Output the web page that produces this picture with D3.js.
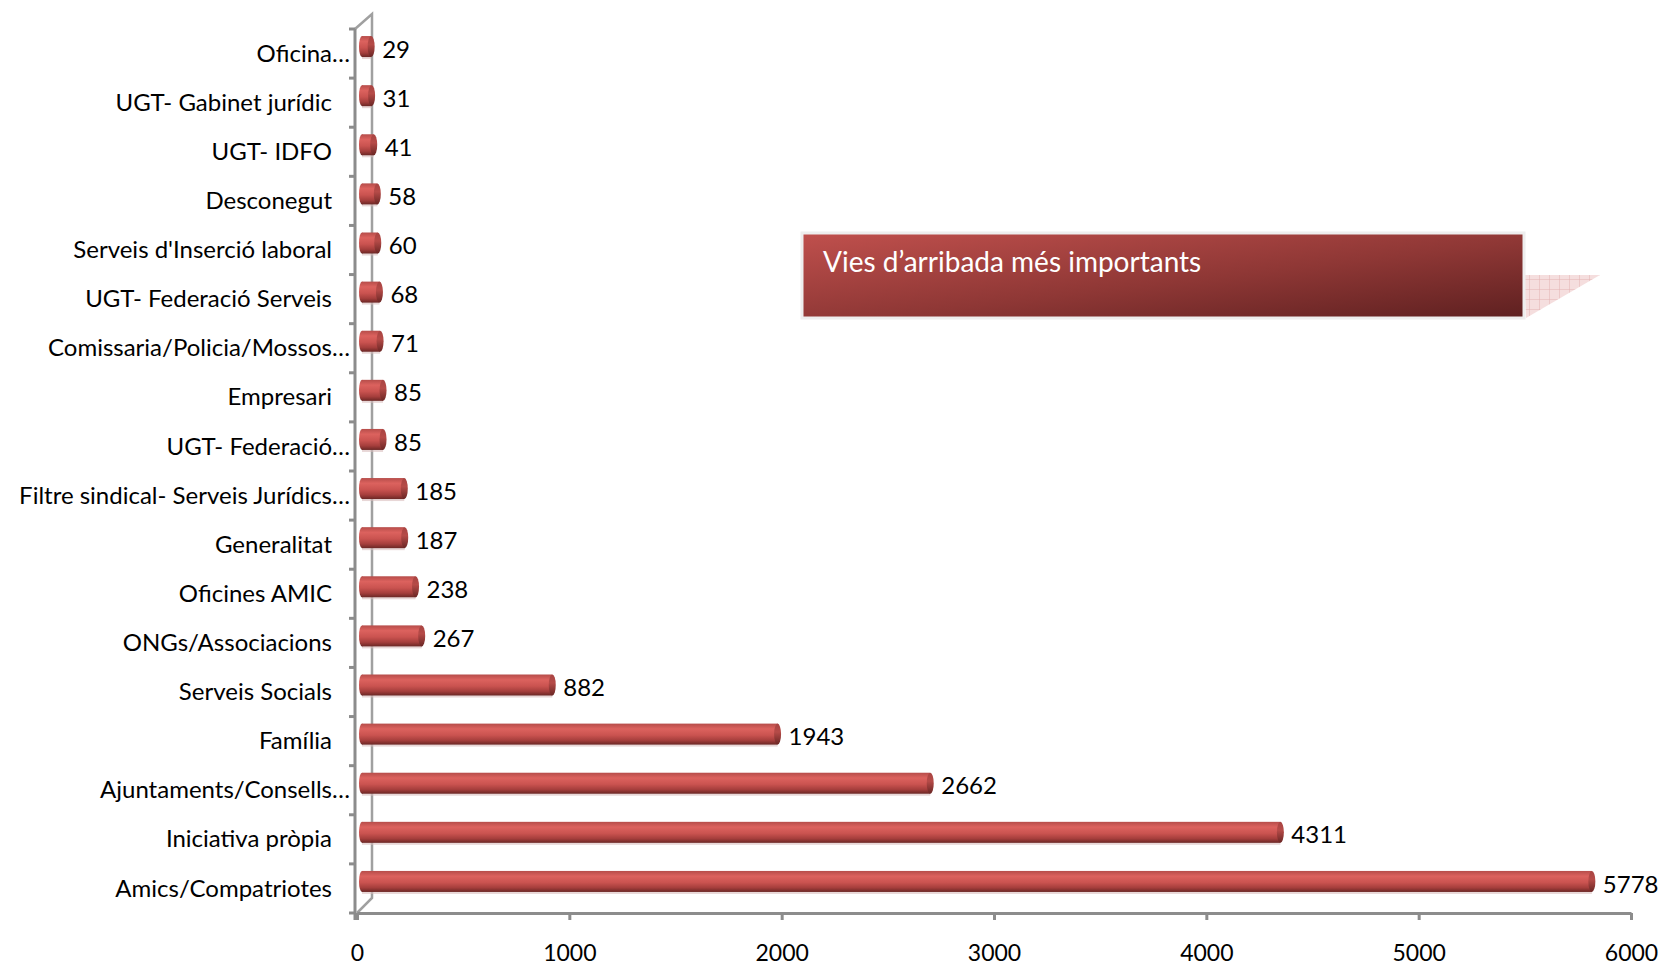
<!DOCTYPE html>
<html>
<head>
<meta charset="utf-8">
<script src="https://cdn.jsdelivr.net/npm/d3@7"></script>
<style>
  body { margin: 0; background: #fff; overflow: hidden; }
  text { font-family: Lato, "Noto Sans", sans-serif; }
</style>
</head>
<body>
<div class="viz"></div>
<script>
// categories top to bottom, as in the picture
const categories = [
  'Oficina…', 'UGT- Gabinet jurídic', 'UGT- IDFO', 'Desconegut',
  "Serveis d'Inserció laboral", 'UGT- Federació Serveis',
  'Comissaria/Policia/Mossos…', 'Empresari', 'UGT- Federació…',
  'Filtre sindical- Serveis Jurídics…', 'Generalitat', 'Oficines AMIC',
  'ONGs/Associacions', 'Serveis Socials', 'Família',
  'Ajuntaments/Consells…', 'Iniciativa pròpia', 'Amics/Compatriotes'
];
const values = [29, 31, 41, 58, 60, 68, 71, 85, 85, 185, 187, 238, 267, 882, 1943, 2662, 4311, 5778];
const xTicks = [0, 1000, 2000, 3000, 4000, 5000, 6000];
const title = 'Vies d’arribada més importants';

const width = 1664, height = 968;
const data = categories.map((c, i) => ({ cat: c, value: values[i] }));

const svg = d3.select('.viz').append('svg')
  .attr('width', width).attr('height', height)
  .style('display', 'block');

const x = d3.scaleLinear().domain([0, 6000]).range([357, 1631]);
const y = d3.scaleBand().domain(categories).range([29, 913]);

// 3d depth offset of the floor / wall
const depth = { dx: 17, dy: -15 };

const defs = svg.append('defs');
const barGrad = defs.append('linearGradient')
  .attr('id', 'barGrad').attr('x1', 0).attr('y1', 0).attr('x2', 0).attr('y2', 1);
[['0', '#b64d4a'], ['0.25', '#dc625e'], ['0.55', '#ca5350'], ['0.8', '#a53e3c'], ['1', '#6b2725']]
  .forEach(s => barGrad.append('stop').attr('offset', s[0]).attr('stop-color', s[1]));

const capGrad = defs.append('linearGradient')
  .attr('id', 'capGrad').attr('x1', 0).attr('y1', 0).attr('x2', 0).attr('y2', 1);
[['0', '#a84442'], ['0.4', '#b64b48'], ['1', '#6a2624']]
  .forEach(s => capGrad.append('stop').attr('offset', s[0]).attr('stop-color', s[1]));

const boxGrad = defs.append('linearGradient')
  .attr('id', 'boxGrad').attr('x1', '0%').attr('y1', '0%').attr('x2', '100%').attr('y2', '100%');
boxGrad.append('stop').attr('offset', '0').attr('stop-color', '#c0504d');
boxGrad.append('stop').attr('offset', '0.55').attr('stop-color', '#8e3735');
boxGrad.append('stop').attr('offset', '1').attr('stop-color', '#5e2020');

const grid = defs.append('pattern')
  .attr('id', 'grid').attr('patternUnits', 'userSpaceOnUse')
  .attr('width', 10).attr('height', 10);
grid.append('rect').attr('width', 10).attr('height', 10).attr('fill', '#f5dede');
grid.append('path').attr('d', 'M10 0V10M0 10H10')
  .attr('stroke', '#e3b3b3').attr('stroke-width', 1).attr('fill', 'none');

// back wall line and floor edge
const axisColor = '#8c8c8c';
const x0 = x(0);
svg.append('path')
  .attr('d', `M${x0 - 2},${y.range()[0]} L${x0 - 2 + depth.dx},${y.range()[0] + depth.dy}` +
    ` L${x0 - 2 + depth.dx},${y.range()[1] + depth.dy}` +
    ` L${x0},${y.range()[1]}`)
  .attr('fill', 'none').attr('stroke', '#a0a0a0').attr('stroke-width', 2.5);

// bars as cylinders
const barH = 21;
const bars = svg.append('g');
data.forEach(d => {
  const cy = y(d.cat) + y.bandwidth() / 2 - 7;
  const xs = x0 + 5, xe = x(d.value) + 8;
  const g = bars.append('g');
  g.append('rect')
    .attr('x', xs).attr('y', cy - barH / 2 + 2)
    .attr('width', xe - xs).attr('height', barH)
    .attr('fill', '#d9bdbd').attr('opacity', 0.6);
  g.append('ellipse')
    .attr('cx', xs).attr('cy', cy).attr('rx', 3).attr('ry', barH / 2)
    .attr('fill', 'url(#barGrad)');
  g.append('rect')
    .attr('x', xs).attr('y', cy - barH / 2)
    .attr('width', xe - xs).attr('height', barH)
    .attr('fill', 'url(#barGrad)');
  g.append('ellipse')
    .attr('cx', xe).attr('cy', cy).attr('rx', 3.5).attr('ry', barH / 2)
    .attr('fill', 'url(#capGrad)');
  svg.append('text')
    .attr('x', xe + 11).attr('y', cy + 5)
    .attr('dominant-baseline', 'middle')
    .attr('font-size', 24).attr('fill', '#000')
    .text(d.value);
});

// front category axis
const yAxis = svg.append('g');
yAxis.append('line')
  .attr('x1', x0 - 2).attr('x2', x0 - 2)
  .attr('y1', y.range()[0]).attr('y2', y.range()[1] + 7)
  .attr('stroke', axisColor).attr('stroke-width', 3);
categories.concat([null]).forEach((c, i) => {
  const ty = c === null ? y.range()[1] : y(c);
  yAxis.append('line')
    .attr('x1', x0 - 8).attr('x2', x0 - 2).attr('y1', ty).attr('y2', ty)
    .attr('stroke', axisColor).attr('stroke-width', 3);
});
yAxis.selectAll('text.cat').data(categories).join('text')
  .attr('class', 'cat')
  .attr('x', d => d.endsWith('…') ? 350 : 332)
  .attr('y', d => y(d) + y.bandwidth() / 2 + 2)
  .attr('text-anchor', 'end')
  .attr('dominant-baseline', 'middle')
  .attr('font-size', 24).attr('fill', '#000')
  .text(d => d);

// value axis
const xAxis = svg.append('g')
  .attr('transform', `translate(0,${y.range()[1]})`)
  .call(d3.axisBottom(x).tickValues(xTicks).tickFormat(d3.format('d'))
    .tickSize(7).tickSizeOuter(0).tickPadding(25));
xAxis.select('.domain').attr('stroke', axisColor).attr('stroke-width', 3);
xAxis.selectAll('.tick line').attr('stroke', axisColor).attr('stroke-width', 3);
xAxis.selectAll('.tick text')
  .attr('font-family', 'Lato, sans-serif').attr('font-size', 23).attr('fill', '#000');

// title callout
const box = { x: 802, y: 233, w: 722, h: 85 };
svg.append('path')
  .attr('d', `M${box.x + box.w},${box.y + 42} L${box.x + box.w + 76},${box.y + 42} L${box.x + box.w + 2},${box.y + box.h}Z`)
  .attr('fill', 'url(#grid)');
svg.append('rect')
  .attr('x', box.x).attr('y', box.y).attr('width', box.w).attr('height', box.h)
  .attr('fill', 'url(#boxGrad)')
  .attr('stroke', '#eeeeee').attr('stroke-width', 3);
svg.append('text')
  .attr('x', box.x + 21).attr('y', box.y + 39)
  .attr('font-size', 28).attr('fill', '#fff')
  .text(title);
</script>
</body>
</html>
